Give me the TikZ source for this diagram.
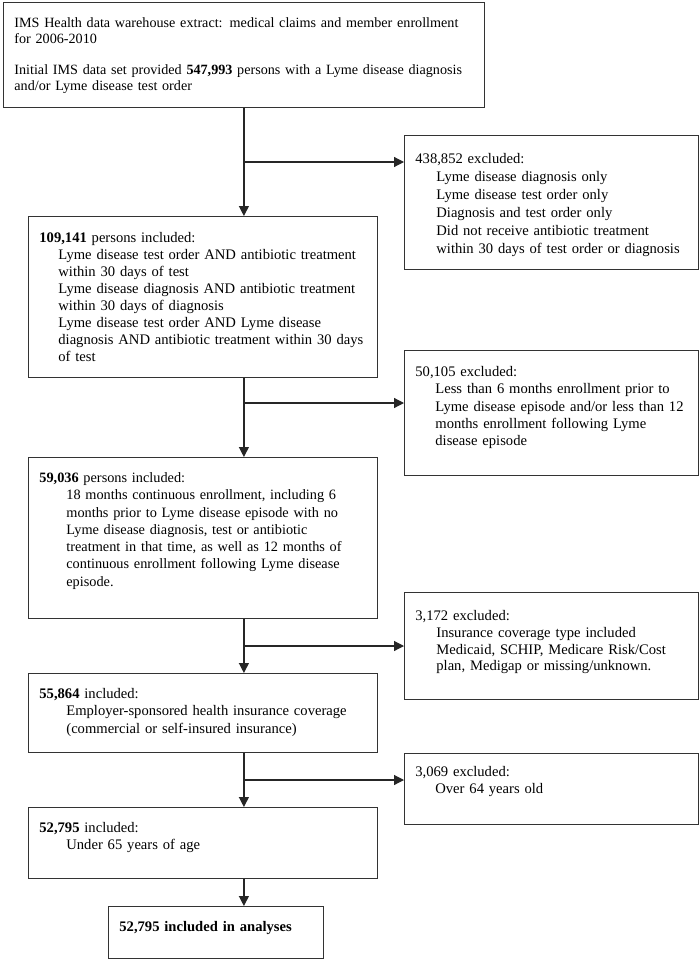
\documentclass[tikz,border=0pt]{standalone}
\usepackage{fontspec}
\setmainfont{Liberation Serif}
\usetikzlibrary{arrows.meta}
\tikzset{
  box/.style={draw=black!80, line width=0.8pt, anchor=north west, inner xsep=11pt, inner ysep=0pt,
    align=left, text height=26pt, font=\fontsize{14.6}{17.3}\selectfont},
  flow/.style={draw=black!85, line width=1.2pt, -{Triangle[length=10pt,width=10pt]}}
}
\newcommand{\subs}[2]{\par{\leftskip=#1\relax #2\par}}
\begin{document}
\begin{tikzpicture}[x=1pt,y=-1pt]
\useasboundingbox (0,0) rectangle (700,960);

\node [box, text width=459pt, text height=25pt, text depth=80pt, font=\fontsize{14.15}{16.3}\selectfont] (b1) at (3,2)
  {IMS Health data warehouse extract: medical claims and member enrollment\\ for 2006-2010\\[14.7pt]
   Initial IMS data set provided \textbf{547,993} persons with a Lyme disease diagnosis\\ and/or Lyme disease test order};
\node [box, text width=272pt, text height=28pt, text depth=106pt, font=\fontsize{14.6}{18}\selectfont] (ex1) at (404,135)
  {438,852 excluded:\subs{21pt}{%
   Lyme disease diagnosis only\\ Lyme disease test order only\\ Diagnosis and test order only\\
   Did not receive antibiotic treatment\\ within 30 days of test order or diagnosis}};
\node [box, text width=327pt, text depth=135pt, font=\fontsize{14.6}{17}\selectfont] (b2) at (28,216)
  {\textbf{109,141} persons included:\subs{19pt}{%
   Lyme disease test order AND antibiotic treatment\\ within 30 days of test\\
   Lyme disease diagnosis AND antibiotic treatment\\ within 30 days of diagnosis\\
   Lyme disease test order AND Lyme disease\\ diagnosis AND antibiotic treatment within 30 days\\ of test}};
\node [box, text width=272pt, text depth=99pt] (ex2) at (404,350)
  {50,105 excluded:\subs{20pt}{%
   Less than 6 months enrollment prior to\\ Lyme disease episode and/or less than 12\\
   months enrollment following Lyme\\ disease episode}};
\node [box, text width=327pt, text height=25pt, text depth=136pt, font=\fontsize{14.3}{17.3}\selectfont] (b3) at (28,457)
  {\textbf{59,036} persons included:\subs{27pt}{%
   18 months continuous enrollment, including 6\\ months prior to Lyme disease episode with no\\
   Lyme disease diagnosis, test or antibiotic\\ treatment in that time, as well as 12 months of\\
   continuous enrollment following Lyme disease\\ episode.}};
\node [box, text width=272pt, text height=28pt, text depth=79pt, font=\fontsize{14.6}{16.8}\selectfont] (ex3) at (404,592)
  {3,172 excluded:\subs{21pt}{%
   Insurance coverage type included\\ Medicaid, SCHIP, Medicare Risk/Cost\\ plan, Medigap or missing/unknown.}};
\node [box, text width=327pt, text height=25pt, text depth=54pt] (b4) at (28,673)
  {\textbf{55,864} included:\subs{27pt}{%
   Employer-sponsored health insurance coverage\\ (commercial or self-insured insurance)}};
\node [box, text width=272pt, text height=23pt, text depth=48pt] (ex4) at (404,753)
  {3,069 excluded:\subs{20pt}{Over 64 years old}};
\node [box, text width=327pt, text height=25pt, text depth=46pt] (b5) at (28,807)
  {\textbf{52,795} included:\subs{27pt}{Under 65 years of age}};
\node [box, text width=193pt, text height=25pt, text depth=27pt] (b6) at (108,906)
  {\textbf{52,795 included in analyses}};

\coordinate (j1) at (b1.south |- 0,162);
\coordinate (j2) at (b1.south |- 0,403);
\coordinate (j3) at (b1.south |- 0,646);
\coordinate (j4) at (b1.south |- 0,780);

\draw [flow] (b1.south) -- (b1.south |- b2.north);
\draw [flow] (j1) -- (j1 -| ex1.west);
\draw [flow] (b2.south -| b1.south) -- (b1.south |- b3.north);
\draw [flow] (j2) -- (j2 -| ex2.west);
\draw [flow] (b3.south -| b1.south) -- (b1.south |- b4.north);
\draw [flow] (j3) -- (j3 -| ex3.west);
\draw [flow] (b4.south -| b1.south) -- (b1.south |- b5.north);
\draw [flow] (j4) -- (j4 -| ex4.west);
\draw [flow] (b5.south -| b1.south) -- (b1.south |- b6.north);
\end{tikzpicture}
\end{document}
